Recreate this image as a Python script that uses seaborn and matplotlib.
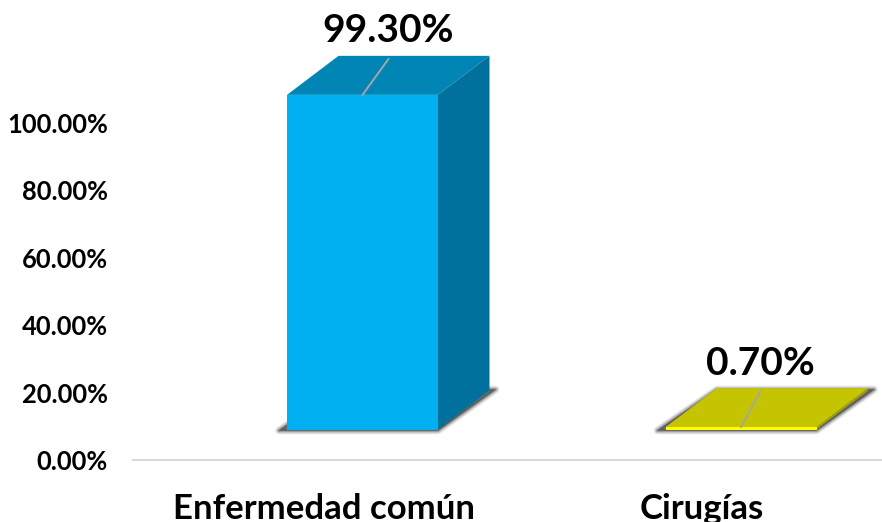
import matplotlib
matplotlib.use('Agg')
import matplotlib.pyplot as plt
from matplotlib.patches import Polygon
import pandas as pd
import seaborn as sns

categories = ['Enfermedad común', 'Cirugías']
values = [99.30, 0.70]
value_labels = ['99.30%', '0.70%']
y_ticks = [0, 20, 40, 60, 80, 100]
y_tick_labels = ['0.00%', '20.00%', '40.00%', '60.00%', '80.00%', '100.00%']

front_colors = ['#00B0F0', '#FFFF00']
top_colors = ['#0085B5', '#C4C400']
side_colors = ['#00709C', '#A0A000']

# tamaño de la figura en pixeles
W, H = 882, 522
PX_X = 378.5    # pixeles por categoria
PX_Y = 3.37     # pixeles por 1%
FLOOR = 30.5 / PX_Y       # la barra flota sobre el eje
DEPTH_X = 51.5 / PX_X
DEPTH_Y = 39 / PX_Y
LABEL_SHIFT = 39 / PX_X
leader_dx = [26 / PX_X, 19.5 / PX_X]    # la guia de cada etiqueta

sns.set_theme(style='white')
plt.rcParams['font.family'] = ['Lato', 'Carlito', 'DejaVu Sans']
plt.rcParams['font.weight'] = 'bold'

df = pd.DataFrame({'categoria': categories, 'valor': values})

fig = plt.figure(figsize=(W / 100, H / 100), dpi=100)
ax = fig.add_axes([133 / W, (H - 460) / H, (W - 133) / W, 460 / H])

sns.barplot(data=df, x='categoria', y='valor', hue='categoria', palette=front_colors,
            dodge=False, width=151 / PX_X, bottom=FLOOR, legend=False, saturation=1,
            linewidth=0, zorder=5, ax=ax)

ax.set_xlim(-(362.5 - 133) / PX_X, (W - 362.5) / PX_X)
ax.set_ylim(0, 460 / PX_Y)

bars = sorted(ax.patches, key=lambda p: p.get_x())
for i, bar in enumerate(bars):
    x0 = bar.get_x()
    x1 = x0 + bar.get_width()
    y0 = bar.get_y()
    y1 = y0 + bar.get_height()
    xm = (x0 + x1) / 2

    # sombra difusa debajo de la barra
    sx = 8 / PX_X
    sy = 1 / PX_Y
    shadow = [(x0 - sx, y0 - sy), (x1, y0 - sy),
              (x1 + DEPTH_X + 6 / PX_X, y0 + DEPTH_Y + sy), (x0 + DEPTH_X, y0 + DEPTH_Y + sy)]
    for lw, alpha in [(6, 0.05), (5, 0.07), (4, 0.10), (3, 0.14), (2, 0.18), (1, 0.22)]:
        ax.add_patch(Polygon(shadow, closed=True, facecolor='#303030', edgecolor='#303030',
                             linewidth=lw, alpha=alpha, zorder=2, joinstyle='round'))

    # cara superior y lateral
    ax.add_patch(Polygon([(x0, y1), (x1, y1), (x1 + DEPTH_X, y1 + DEPTH_Y), (x0 + DEPTH_X, y1 + DEPTH_Y)],
                         closed=True, facecolor=top_colors[i], edgecolor='none', zorder=4))
    ax.add_patch(Polygon([(x1, y0), (x1 + DEPTH_X, y0 + DEPTH_Y), (x1 + DEPTH_X, y1 + DEPTH_Y), (x1, y1)],
                         closed=True, facecolor=side_colors[i], edgecolor='none', zorder=4))

    # linea guia y etiqueta
    ax.plot([xm, xm + leader_dx[i]], [y1, y1 + DEPTH_Y * 0.92], color='#A6A6A6', linewidth=1.4, zorder=6)
    ax.annotate(value_labels[i], (xm + leader_dx[i], y1 + DEPTH_Y), xytext=(0, 18),
                textcoords='offset points', ha='center', va='center',
                fontsize=28, fontweight='bold', color='black', zorder=7)

ax.set_xlabel('')
ax.set_ylabel('')
ax.set_yticks(y_ticks)
ax.set_yticklabels(y_tick_labels)
ax.set_xticks([i - LABEL_SHIFT for i in range(len(categories))])
ax.set_xticklabels(categories)
ax.tick_params(axis='y', length=0, pad=18, labelsize=18.4, labelcolor='black')
ax.tick_params(axis='x', length=0, pad=24, labelsize=25, labelcolor='black')

sns.despine(ax=ax, left=True)
ax.spines['bottom'].set_color('#D9D9D9')
ax.spines['bottom'].set_linewidth(1.5)
ax.set_facecolor('white')

fig.savefig('out.png', dpi=100, facecolor='white')
